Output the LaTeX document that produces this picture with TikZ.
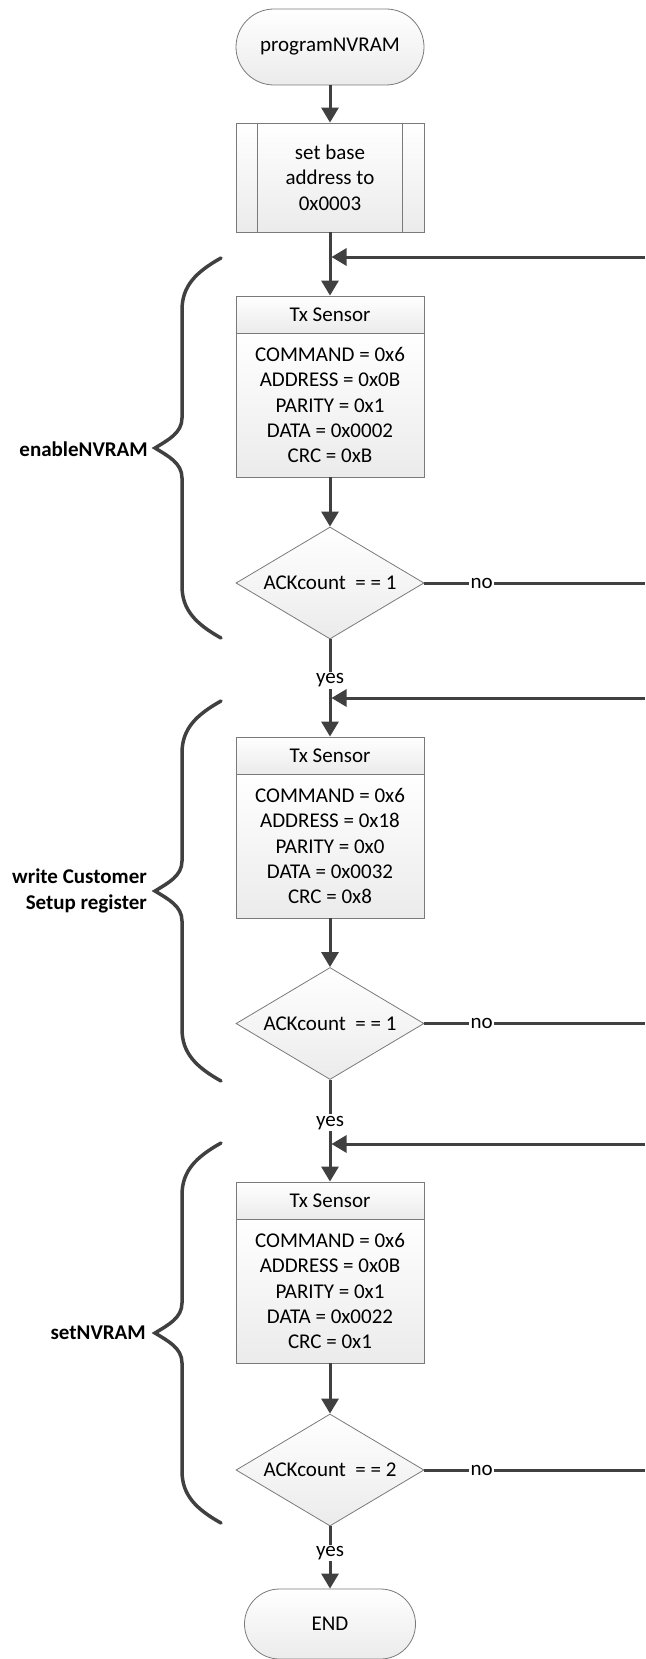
\documentclass[tikz,border=0pt]{standalone}
\usepackage{fontspec}
\setmainfont{Carlito}
\usetikzlibrary{arrows.meta,shapes.geometric}

\definecolor{linegray}{HTML}{404040}
\definecolor{edgegray}{HTML}{7A7A7A}
\definecolor{shadegray}{HTML}{EBEBEB}
\newcommand\flowfont{\fontsize{21pt}{25.3pt}\selectfont}

\begin{document}
\begin{tikzpicture}[
  x=1pt, y=-1pt,
  flow/.style={draw=edgegray, line width=0.8pt, top color=white, bottom color=shadegray,
               font=\flowfont, align=center, inner sep=0pt},
  term/.style={flow, minimum width=188pt, minimum height=76pt, rounded corners=38pt},
  endterm/.style={flow, minimum width=171pt, minimum height=70pt, rounded corners=35pt},
  procbox/.style={flow, minimum width=188pt, minimum height=109pt},
  headbox/.style={flow, minimum width=188pt, minimum height=37pt},
  bodybox/.style={flow, minimum width=188pt, minimum height=144pt},
  decision/.style={flow, shape=diamond, minimum width=188pt, minimum height=112pt,
                   label={[font=\flowfont]center:#1}},
  conn/.style={draw=linegray, line width=3pt},
  arr/.style={conn, -{Triangle[length=15pt,width=17pt]}},
  lbl/.style={fill=white, inner sep=1.5pt, font=\flowfont, text=black},
  grouplbl/.style={anchor=east, font=\flowfont\bfseries, align=right, inner sep=0pt},
  bracestroke/.style={draw=linegray, line width=3.5pt, line cap=round}
]
\useasboundingbox (0,0) rectangle (645,1659);

% ---- start and base address ----
\node[term] (start) at (330,47) {programNVRAM};
\node[procbox] (base) at (330,177.5) {set base\\address to\\0x0003};
\draw[edgegray, line width=0.8pt] ([xshift=22pt]base.north west) -- ([xshift=22pt]base.south west)
      ([xshift=-22pt]base.north east) -- ([xshift=-22pt]base.south east);

% ---- enableNVRAM ----
\node[headbox] (t1) at (330,314.5) {Tx Sensor};
\node[bodybox] (b1) at (330,405) {COMMAND = 0x6\\ADDRESS = 0x0B\\PARITY = 0x1\\DATA = 0x0002\\CRC = 0xB};
\node[decision={ACKcount~~= = 1}] (d1) at (330,583) {};

% ---- write Customer Setup register ----
\node[headbox] (t2) at (330,755.5) {Tx Sensor};
\node[bodybox] (b2) at (330,846) {COMMAND = 0x6\\ADDRESS = 0x18\\PARITY = 0x0\\DATA = 0x0032\\CRC = 0x8};
\node[decision={ACKcount~~= = 1}] (d2) at (330,1023.5) {};

% ---- setNVRAM ----
\node[headbox] (t3) at (330,1200.5) {Tx Sensor};
\node[bodybox] (b3) at (330,1291) {COMMAND = 0x6\\ADDRESS = 0x0B\\PARITY = 0x1\\DATA = 0x0022\\CRC = 0x1};
\node[decision={ACKcount~~= = 2}] (d3) at (330,1470) {};

\node[endterm] (end) at (330,1624) {END};

% ---- merge points and loose ends on the right ----
\coordinate (m1) at (331.5,257);
\coordinate (m2) at (331.5,698);
\coordinate (m3) at (331.5,1144);
\coordinate (r1) at (645,257);
\coordinate (r2) at (645,698);
\coordinate (r3) at (645,1144);
\coordinate (n1) at (645,583);
\coordinate (n2) at (645,1023.5);
\coordinate (n3) at (645,1470);

% ---- connectors ----
\draw[arr] (start.south) -- (base.north);
\draw[arr] (base.south) -- (t1.north);
\draw[arr] (r1) -- (m1);
\draw[arr] (b1.south) -- (d1.north);
\draw[conn] (d1.east) -- node[lbl, pos=0.26] {no} (n1);
\draw[arr] (d1.south) -- node[lbl, pos=0.42] {yes} (t2.north);
\draw[arr] (r2) -- (m2);
\draw[arr] (b2.south) -- (d2.north);
\draw[conn] (d2.east) -- node[lbl, pos=0.26] {no} (n2);
\draw[arr] (d2.south) -- node[lbl, pos=0.42] {yes} (t3.north);
\draw[arr] (r3) -- (m3);
\draw[arr] (b3.south) -- (d3.north);
\draw[conn] (d3.east) -- node[lbl, pos=0.26] {no} (n3);
\draw[arr] (d3.south) -- node[lbl, pos=0.43] {yes} (end.north);

% ---- group braces ----
\foreach \top in {258,701,1143} {
  \begin{scope}[shift={(0,\top)}]
    \draw[bracestroke] (221,0) .. controls (196,14) and (182,28) .. (182,52)
      -- (182,160) .. controls (182,175) and (168,182) .. (155,190)
      .. controls (168,198) and (182,205) .. (182,220)
      -- (182,328) .. controls (182,352) and (196,366) .. (221,380);
  \end{scope}
}
\node[grouplbl] (g1) at (148,449) {enableNVRAM};
\node[grouplbl] (g2) at (147,891) {write Customer\\Setup register};
\node[grouplbl] (g3) at (146,1333) {setNVRAM};
\end{tikzpicture}
\end{document}
